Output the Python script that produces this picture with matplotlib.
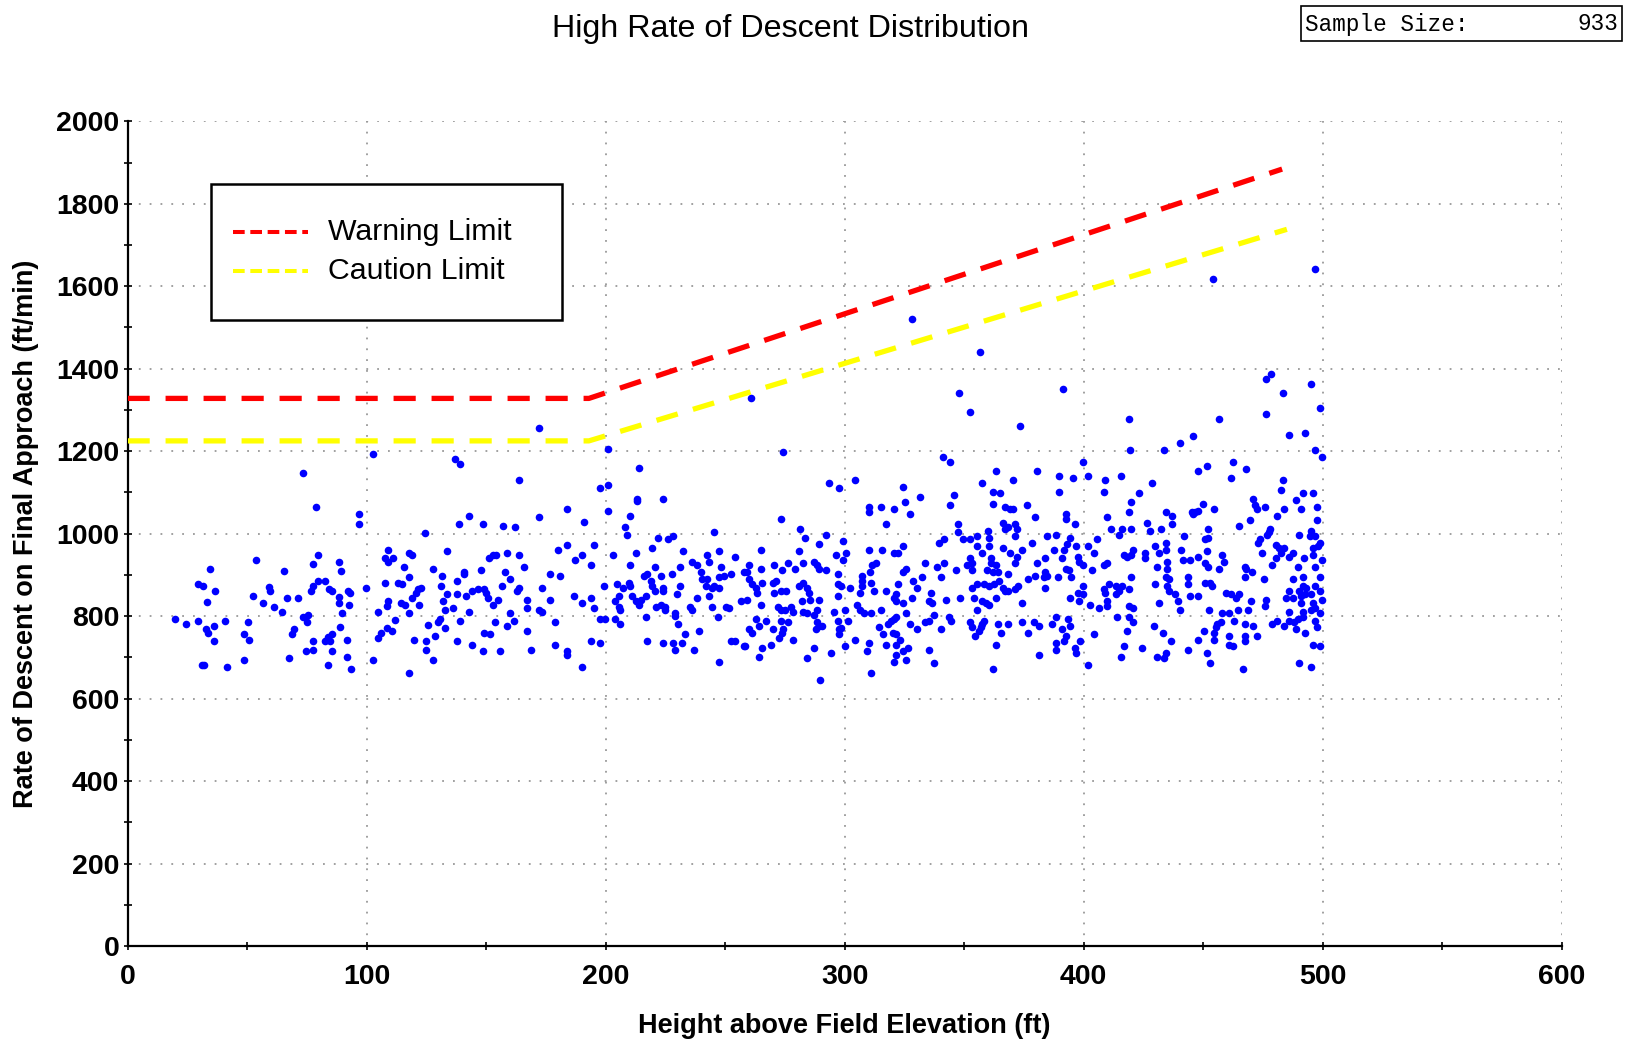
"""High rate of descent scatter with warning / caution limit lines."""

import matplotlib

matplotlib.use("Agg")
import matplotlib.pyplot as plt  # noqa: E402
from matplotlib.lines import Line2D  # noqa: E402
from matplotlib.patches import Rectangle  # noqa: E402

# (height above field elevation [ft], rate of descent [ft/min]),
# grouped by height band.
pts_020_090 = [
    (73.2, 1148), (79.0, 1064), (53.8, 935), (34.3, 915), (65.4, 910), (79.7, 948),
    (77.5, 927), (88.5, 932), (89.1, 910), (29.3, 877), (31.7, 873), (36.7, 860),
    (33.1, 835), (52.4, 848), (56.8, 831), (59.0, 870), (59.7, 860), (61.1, 823),
    (64.7, 810), (66.7, 844), (71.1, 844), (76.8, 860), (77.5, 873), (79.6, 886),
    (82.7, 886), (84.2, 865), (85.5, 860), (88.4, 846), (88.4, 831), (89.6, 807),
    (20.0, 794), (24.4, 781), (29.3, 789), (32.9, 768), (33.8, 760), (36.0, 777),
    (36.0, 739), (40.9, 789), (48.8, 756), (50.2, 785), (50.9, 743), (48.8, 694),
    (31.3, 681), (32.1, 681), (41.7, 677), (67.5, 698), (69.7, 768), (68.9, 756),
    (73.5, 797), (75.6, 802), (74.9, 785), (74.6, 715), (77.5, 718), (77.5, 739),
    (82.7, 739), (83.9, 749), (85.5, 756), (84.6, 739), (85.5, 715), (83.9, 681),
    (88.9, 773),
]
pts_090_175 = [
    (172.1, 1257), (102.6, 1194), (137.0, 1181), (139.2, 1169), (163.6, 1131),
    (96.9, 1048), (96.9, 1023), (142.8, 1044), (138.5, 1023), (148.6, 1023),
    (157.1, 1019), (162.2, 1015), (172.1, 1040), (124.3, 1002), (109.1, 961),
    (107.6, 941), (109.1, 932), (111.2, 941), (117.6, 953), (119.2, 948), (133.5, 957),
    (115.5, 919), (127.8, 915), (117.8, 894), (131.4, 898), (140.8, 903), (140.8, 907),
    (147.9, 911), (151.3, 940), (152.9, 948), (154.3, 948), (158.6, 953), (163.6, 948),
    (165.7, 919), (157.9, 907), (160.0, 890), (99.8, 869), (107.6, 881), (113.3, 881),
    (114.7, 877), (121.3, 865), (122.6, 869), (120.6, 857), (119.2, 845), (131.3, 873),
    (137.8, 886), (133.5, 853), (137.8, 853), (141.5, 849), (144.2, 861), (146.5, 865),
    (149.3, 865), (150.1, 857), (150.8, 845), (155.0, 840), (156.5, 873), (162.9, 861),
    (163.6, 869), (167.2, 840), (173.5, 869), (92.1, 861), (93.0, 857), (92.7, 828),
    (109.1, 836), (108.4, 824), (114.2, 832), (116.2, 828), (121.9, 828), (132.0, 836),
    (132.8, 815), (136.3, 820), (117.8, 807), (104.8, 811), (142.7, 811), (152.9, 828),
    (160.1, 807), (167.2, 820), (172.1, 816), (173.5, 811), (111.9, 791), (108.4, 772),
    (110.5, 764), (106.2, 760), (104.8, 748), (125.6, 778), (129.9, 785), (130.6, 793),
    (132.8, 772), (139.2, 789), (153.6, 785), (158.6, 777), (161.5, 789), (149.3, 760),
    (151.5, 756), (167.2, 764), (91.9, 743), (119.9, 743), (124.9, 739), (128.5, 752),
    (137.8, 739), (144.2, 731), (148.6, 715), (155.8, 715), (168.6, 719), (124.9, 719),
    (91.9, 702), (93.4, 673), (102.6, 694), (127.8, 694), (117.8, 661),
]
pts_175_258 = [
    (201.0, 1206), (213.8, 1160), (201.0, 1119), (197.5, 1110), (213.2, 1084),
    (213.2, 1079), (223.9, 1085), (183.8, 1060), (201.0, 1056), (210.3, 1044),
    (190.9, 1028), (208.2, 1015), (208.9, 998), (245.4, 1003), (221.9, 990),
    (226.2, 986), (228.3, 994), (183.8, 973), (195.2, 973), (180.2, 961), (219.6, 965),
    (232.4, 957), (247.6, 957), (190.2, 948), (187.3, 936), (203.2, 948), (212.5, 952),
    (242.6, 948), (254.0, 944), (193.9, 924), (210.3, 924), (236.1, 932), (238.3, 924),
    (243.3, 932), (248.3, 919), (220.5, 919), (231.2, 919), (176.6, 903), (180.9, 898),
    (216.1, 898), (217.5, 903), (223.2, 898), (227.6, 903), (239.7, 907), (252.6, 903),
    (257.7, 907), (240.4, 890), (242.6, 890), (247.6, 894), (249.7, 898), (199.4, 873),
    (204.6, 877), (209.6, 881), (210.3, 873), (207.2, 869), (218.9, 886), (219.6, 873),
    (224.0, 869), (224.0, 861), (231.2, 873), (241.8, 873), (244.7, 869), (245.5, 873),
    (247.6, 869), (220.5, 861), (176.6, 840), (186.6, 848), (193.9, 844), (190.2, 832),
    (195.2, 820), (205.4, 848), (203.9, 836), (205.4, 823), (206.1, 815), (211.0, 848),
    (212.5, 836), (213.9, 828), (216.8, 848), (214.6, 840), (221.2, 823), (223.2, 828),
    (224.8, 815), (224.8, 823), (229.7, 853), (235.4, 823), (236.1, 815), (238.3, 844),
    (243.3, 848), (244.7, 823), (250.4, 823), (251.8, 820), (256.8, 836), (178.7, 785),
    (197.5, 793), (199.6, 793), (203.9, 794), (206.1, 780), (216.8, 797), (228.9, 807),
    (228.9, 801), (230.3, 781), (246.9, 797), (233.3, 756), (239.0, 764), (178.7, 731),
    (193.9, 739), (197.5, 735), (217.5, 739), (223.9, 735), (228.3, 735), (229.0, 719),
    (231.9, 735), (236.9, 719), (252.6, 739), (254.0, 739), (257.7, 727), (183.8, 715),
    (183.8, 706), (190.2, 677), (247.6, 690),
]
pts_258_342 = [
    (274.1, 1198), (341.2, 1185), (293.5, 1123), (297.8, 1110), (304.3, 1131),
    (324.4, 1114), (331.5, 1089), (325.1, 1077), (327.3, 1048), (310.0, 1065),
    (310.0, 1052), (315.1, 1065), (320.8, 1060), (317.3, 1023), (273.4, 1036),
    (281.2, 1011), (283.4, 990), (292.1, 998), (299.3, 982), (264.9, 961), (280.7, 957),
    (289.3, 974), (310.0, 961), (315.8, 961), (320.8, 953), (322.3, 953), (324.4, 969),
    (339.3, 978), (296.4, 948), (300.7, 953), (299.3, 936), (259.9, 924), (264.9, 915),
    (270.6, 924), (276.3, 928), (282.7, 928), (287.1, 932), (288.5, 924), (289.3, 915),
    (273.6, 911), (279.3, 915), (292.1, 911), (311.6, 924), (313.0, 928), (310.7, 907),
    (325.8, 915), (324.4, 907), (333.7, 928), (338.7, 919), (341.5, 928), (259.1, 907),
    (259.9, 890), (261.3, 877), (262.7, 869), (263.5, 857), (265.6, 881), (269.9, 881),
    (271.3, 886), (270.6, 857), (273.4, 861), (275.6, 861), (280.7, 873), (282.7, 881),
    (284.3, 869), (285.0, 857), (285.7, 840), (289.3, 840), (297.1, 903), (297.1, 877),
    (298.6, 873), (297.1, 848), (302.2, 869), (307.3, 898), (307.3, 886), (307.3, 873),
    (306.6, 857), (310.9, 881), (312.3, 861), (317.3, 861), (322.3, 877), (321.6, 853),
    (320.8, 845), (321.5, 836), (324.4, 832), (328.0, 844), (328.7, 886), (330.1, 869),
    (332.3, 894), (336.0, 857), (335.1, 836), (336.5, 832), (340.1, 894), (259.1, 840),
    (264.9, 828), (272.0, 823), (273.4, 815), (274.9, 815), (277.7, 823), (278.4, 811),
    (282.0, 836), (282.7, 811), (284.3, 807), (288.5, 815), (287.1, 802), (295.7, 811),
    (300.0, 815), (305.0, 828), (306.6, 815), (307.9, 807), (310.9, 807), (315.1, 815),
    (325.8, 807), (337.3, 802), (262.7, 794), (267.0, 789), (273.4, 789), (276.3, 785),
    (288.6, 785), (297.1, 789), (301.4, 789), (289.3, 777), (290.7, 777), (264.2, 777),
    (259.9, 768), (261.3, 760), (269.9, 768), (273.6, 760), (274.2, 768), (272.7, 748),
    (287.8, 768), (297.8, 768), (298.6, 772), (297.8, 756), (314.4, 773), (315.9, 756),
    (318.0, 781), (319.4, 789), (320.8, 793), (321.5, 797), (320.1, 760), (321.5, 756),
    (323.0, 743), (327.3, 781), (330.1, 768), (333.7, 785), (335.1, 789), (340.1, 768),
    (278.4, 743), (304.3, 743), (258.1, 727), (265.6, 723), (269.2, 731), (264.2, 702),
    (287.1, 723), (284.3, 698), (294.3, 710), (300.0, 727), (310.0, 735), (309.4, 715),
    (317.3, 731), (321.5, 731), (324.4, 715), (326.6, 723), (321.6, 706), (320.8, 690),
    (325.8, 694), (335.1, 719), (337.3, 686), (289.8, 644), (310.9, 661),
]
pts_342_425 = [
    (373.3, 1261), (419.3, 1202), (343.9, 1173), (399.8, 1173), (363.3, 1152),
    (380.4, 1152), (389.7, 1139), (395.5, 1135), (402.0, 1139), (409.1, 1131),
    (415.5, 1139), (370.5, 1131), (357.4, 1123), (389.7, 1102), (408.4, 1102),
    (423.3, 1098), (361.9, 1102), (364.8, 1098), (345.9, 1094), (343.9, 1069),
    (361.9, 1073), (366.9, 1064), (369.0, 1060), (370.5, 1060), (376.2, 1069),
    (379.7, 1040), (392.5, 1048), (392.5, 1035), (396.2, 1023), (409.8, 1040),
    (419.8, 1077), (419.0, 1052), (411.3, 1011), (416.2, 1011), (419.8, 1011),
    (347.4, 1023), (347.4, 1003), (366.2, 1027), (366.9, 1011), (368.3, 1015),
    (371.2, 1023), (371.9, 1011), (371.2, 994), (359.8, 1007), (360.5, 990),
    (341.7, 986), (349.6, 986), (352.4, 986), (355.3, 994), (384.6, 994), (388.4, 998),
    (394.1, 990), (414.8, 998), (405.6, 986), (355.3, 969), (360.5, 969), (378.3, 978),
    (393.2, 974), (396.9, 969), (402.0, 969), (366.1, 965), (374.0, 961), (387.7, 961),
    (391.8, 961), (357.4, 953), (369.0, 953), (404.1, 953), (416.9, 948), (418.3, 944),
    (419.8, 948), (420.5, 961), (352.3, 940), (361.2, 940), (371.9, 944), (384.0, 940),
    (391.1, 940), (397.5, 944), (398.2, 932), (351.0, 924), (353.1, 928), (361.2, 928),
    (363.3, 924), (371.2, 928), (380.4, 928), (392.5, 915), (399.6, 924), (408.4, 924),
    (409.8, 928), (346.7, 911), (353.1, 911), (359.7, 911), (361.9, 907), (364.0, 907),
    (368.3, 903), (384.0, 907), (393.9, 911), (394.8, 894), (403.4, 911), (376.8, 890),
    (379.7, 898), (383.2, 894), (384.7, 898), (389.1, 894), (419.8, 894), (358.3, 877),
    (360.5, 873), (362.6, 877), (364.7, 886), (355.3, 877), (353.1, 869), (372.6, 873),
    (384.0, 869), (399.9, 873), (410.5, 877), (413.3, 873), (416.2, 873), (342.4, 840),
    (348.1, 844), (353.9, 844), (357.4, 836), (359.1, 832), (360.5, 828), (363.3, 844),
    (366.1, 869), (368.3, 861), (371.2, 865), (366.9, 861), (374.0, 832), (397.5, 857),
    (399.6, 853), (398.2, 836), (394.1, 844), (408.4, 865), (409.1, 857), (409.8, 836),
    (413.4, 853), (414.8, 861), (419.1, 865), (402.7, 828), (406.2, 820), (409.8, 824),
    (419.1, 824), (420.5, 820), (355.3, 815), (343.8, 798), (344.6, 789), (352.4, 785),
    (353.1, 773), (358.3, 789), (357.4, 781), (356.9, 773), (356.0, 764), (354.6, 752),
    (364.0, 781), (368.3, 781), (365.4, 760), (374.0, 785), (379.0, 785), (381.1, 777),
    (376.8, 760), (386.8, 781), (388.4, 797), (393.4, 794), (394.1, 777), (391.1, 768),
    (392.5, 752), (391.8, 739), (388.4, 735), (388.4, 718), (398.4, 739), (404.1, 756),
    (414.1, 797), (419.1, 797), (420.5, 785), (418.3, 764), (363.3, 731), (396.2, 723),
    (396.9, 711), (381.1, 706), (402.0, 681), (361.9, 673), (416.9, 727), (415.5, 702),
    (424.2, 723),
]
pts_425_500 = [
    (486.0, 1240), (492.4, 1244), (440.1, 1219), (445.8, 1236), (433.6, 1202),
    (496.8, 1202), (499.7, 1185), (448.0, 1152), (451.5, 1164), (462.3, 1173),
    (468.1, 1156), (461.6, 1135), (428.6, 1123), (483.2, 1131), (482.4, 1106),
    (491.7, 1098), (496.1, 1098), (488.8, 1081), (491.0, 1060), (497.5, 1065),
    (497.5, 1032), (471.0, 1085), (471.7, 1069), (472.4, 1060), (476.0, 1065),
    (483.8, 1060), (481.0, 1044), (469.4, 1032), (465.1, 1019), (450.1, 1073),
    (454.4, 1060), (445.1, 1052), (446.5, 1052), (448.0, 1056), (445.8, 1048),
    (434.3, 1052), (437.1, 1044), (437.1, 1023), (426.4, 1027), (427.9, 1007),
    (432.3, 1011), (452.2, 1011), (452.2, 990), (450.8, 986), (442.1, 994),
    (478.1, 1011), (477.4, 1003), (476.7, 998), (473.8, 986), (473.1, 978),
    (490.2, 998), (495.2, 1007), (494.5, 994), (496.7, 994), (498.8, 978), (498.1, 969),
    (495.9, 965), (429.9, 969), (434.3, 978), (434.3, 961), (431.6, 953), (425.7, 953),
    (425.7, 940), (440.9, 961), (451.5, 957), (448.0, 944), (441.4, 936), (444.4, 936),
    (458.0, 948), (458.7, 932), (456.5, 915), (480.3, 973), (481.7, 965), (483.8, 965),
    (482.4, 953), (480.3, 940), (478.8, 924), (486.0, 944), (487.4, 953), (474.6, 953),
    (492.3, 940), (495.9, 948), (499.5, 936), (430.7, 919), (435.0, 932), (435.0, 915),
    (450.8, 928), (452.2, 919), (467.4, 919), (468.1, 915), (470.2, 907), (467.4, 894),
    (489.5, 919), (496.7, 919), (498.8, 894), (491.7, 894), (487.4, 890), (475.3, 890),
    (434.3, 894), (435.7, 890), (443.7, 894), (443.7, 877), (430.0, 877), (435.0, 873),
    (435.7, 861), (438.0, 853), (444.4, 848), (448.0, 848), (450.8, 881), (452.9, 881),
    (453.7, 873), (431.6, 832), (439.4, 836), (440.1, 815), (452.3, 815), (459.4, 857),
    (461.6, 853), (463.7, 844), (465.1, 853), (470.1, 836), (476.1, 840), (475.9, 824),
    (486.0, 861), (484.5, 844), (487.4, 844), (490.2, 861), (491.7, 873), (493.1, 869),
    (491.0, 848), (492.4, 853), (495.2, 853), (496.7, 873), (498.8, 861), (499.5, 840),
    (491.0, 832), (495.9, 832), (496.7, 820), (495.2, 815), (486.0, 811), (491.7, 811),
    (491.7, 798), (498.8, 807), (458.0, 807), (460.8, 807), (464.4, 815), (468.8, 815),
    (463.0, 789), (467.4, 781), (471.0, 777), (457.3, 785), (455.9, 781), (455.2, 773),
    (454.5, 760), (454.5, 743), (450.2, 764), (448.0, 743), (460.8, 752), (460.8, 731),
    (462.3, 727), (467.4, 752), (467.4, 739), (472.4, 752), (478.8, 781), (481.0, 789),
    (483.8, 777), (486.0, 789), (488.1, 785), (488.8, 768), (489.5, 793), (492.4, 760),
    (497.4, 773), (496.7, 789), (429.3, 777), (433.0, 760), (436.6, 739), (443.7, 719),
    (451.5, 711), (452.9, 686), (430.7, 702), (433.6, 698), (434.3, 711), (466.7, 673),
    (490.2, 686), (495.2, 677), (495.9, 731), (498.8, 727),
]
pts_high = [
    (328.1, 1520), (356.8, 1440), (260.8, 1328), (348.0, 1341), (352.3, 1295),
    (391.4, 1350), (418.8, 1278), (454.2, 1617), (496.6, 1641), (456.4, 1278),
    (476.3, 1374), (478.5, 1387), (483.5, 1341), (495.0, 1362), (498.8, 1304),
    (476.3, 1291),
]

# Limit lines: flat, then rising with height.
warning_x = [0, 193, 483]
warning_y = [1328, 1328, 1884]
caution_x = [0, 193, 485]
caution_y = [1225, 1225, 1738]

sample_size = 933

x_ticks = [0, 100, 200, 300, 400, 500, 600]
y_ticks = [0, 200, 400, 600, 800, 1000, 1200, 1400, 1600, 1800, 2000]

LABEL_FONT = "Liberation Sans"

fig = plt.figure(figsize=(16.25, 10.4), dpi=100)
ax = fig.add_axes([0.0785, 0.0903, 0.8826, 0.7931])

all_pts = pts_020_090 + pts_090_175 + pts_175_258 + pts_258_342 + pts_342_425 + pts_425_500 + pts_high
ax.scatter([p[0] for p in all_pts], [p[1] for p in all_pts],
           s=30, c="#0000ff", linewidths=0, zorder=3)

ax.plot(warning_x, warning_y, color="#ff0000", linewidth=3.8,
        dashes=(4.2, 3.0), solid_capstyle="butt", dash_capstyle="butt", zorder=4)
ax.plot(caution_x, caution_y, color="#ffff00", linewidth=3.8,
        dashes=(4.2, 3.0), solid_capstyle="butt", dash_capstyle="butt", zorder=4)

ax.set_xlim(0, 600)
ax.set_ylim(0, 2000)
ax.set_xticks(x_ticks)
ax.set_yticks(y_ticks)
ax.set_xticks([50, 150, 250, 350, 450, 550], minor=True)
ax.set_yticks([100 + 200 * i for i in range(10)], minor=True)

ax.grid(True, which="major", color="#999999", linewidth=1.3, linestyle=(0, (1, 5)))
ax.set_axisbelow(True)

for side in ("top", "right"):
    ax.spines[side].set_visible(False)
for side in ("left", "bottom"):
    ax.spines[side].set_linewidth(1.6)

ax.tick_params(which="both", direction="inout", length=6, width=1.2, color="black")
ax.tick_params(axis="x", which="major", pad=10)
ax.tick_params(axis="y", which="major", pad=3)
for lab in ax.get_xticklabels() + ax.get_yticklabels():
    lab.set_fontfamily(LABEL_FONT)
    lab.set_fontweight("bold")
    lab.set_fontsize(20.5)

ax.set_xlabel("Height above Field Elevation (ft)", family=LABEL_FONT,
              fontweight="bold", fontsize=19.5, va="center")
ax.xaxis.set_label_coords(0.5, -0.097)
ax.set_ylabel("Rate of Descent on Final Approach (ft/min)", family=LABEL_FONT,
              fontweight="bold", fontsize=19.5, va="center")
ax.yaxis.set_label_coords(-0.0708, 0.5)

fig.text(790 / 1625, 1 - 29 / 1040, "High Rate of Descent Distribution",
         family=LABEL_FONT, fontsize=23.2, ha="center", va="center")

# Legend box, drawn by hand to match the boxed layout of the original.
ax.add_patch(Rectangle((0.0582, 0.759), 0.2448, 0.165, transform=ax.transAxes,
                       facecolor="white", edgecolor="black", linewidth=1.8, zorder=5))
legend_rows = [("Warning Limit", "#ff0000", 0.8658), ("Caution Limit", "#ffff00", 0.8179)]
for label, colour, yy in legend_rows:
    ax.add_line(Line2D([0.0736, 0.1259], [yy, yy], transform=ax.transAxes,
                       color=colour, linewidth=2.9, dashes=(2.9, 1.4),
                       dash_capstyle="butt", zorder=6))
    ax.text(0.1395, yy, label, transform=ax.transAxes, family=LABEL_FONT,
            fontsize=21.8, va="center", ha="left", zorder=6)

# Sample size box, top right.
fig.patches.append(Rectangle((1301 / 1625, 1 - 41 / 1040), 321 / 1625, 35 / 1040,
                             transform=fig.transFigure, facecolor="white",
                             edgecolor="black", linewidth=1.2))
fig.text(1305 / 1625, 1 - 24 / 1040, "Sample Size:", family="Liberation Mono",
         fontsize=16.3, ha="left", va="center")
fig.text(1618 / 1625, 1 - 24 / 1040, str(sample_size), family="Liberation Mono",
         fontsize=16.3, ha="right", va="center")

fig.savefig("out.png", dpi=100)
